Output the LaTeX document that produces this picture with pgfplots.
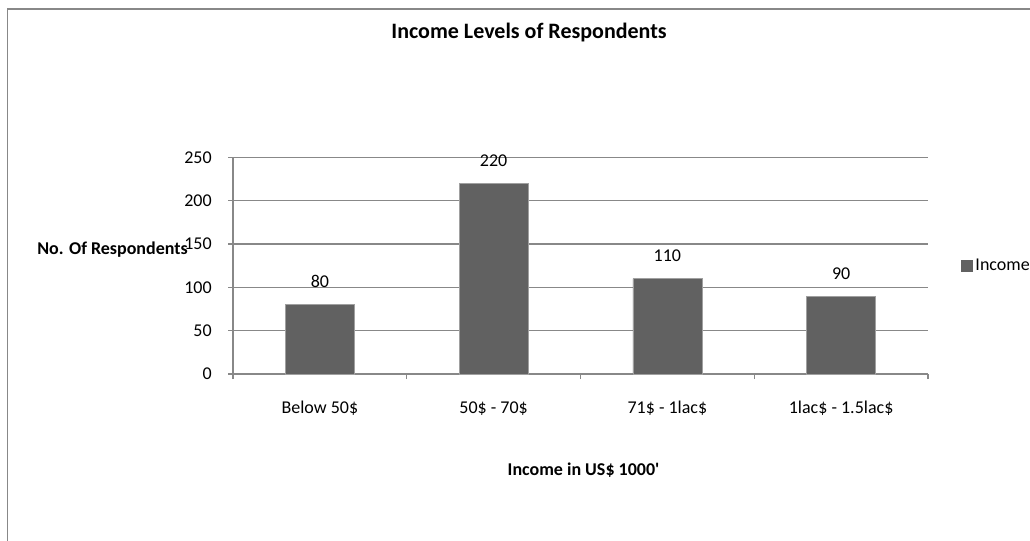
\documentclass[border=0pt]{standalone}
\usepackage{pgfplots}
\pgfplotsset{compat=1.18}
\usepackage{fontspec}
\setmainfont{Carlito}
\definecolor{barc}{HTML}{616161}
\definecolor{gridc}{HTML}{888888}
\begin{document}
\begin{tikzpicture}[x=0.75pt,y=-0.75pt]
\useasboundingbox (0,0) rectangle (1030,541);
\begin{scope}
\clip (0,0) rectangle (1030,541);
\draw[gridc, line width=1.3pt] (7.5,560) -- (7.5,9.3) -- (1050,9.3);
\end{scope}
\begin{axis}[
  at={(174.75pt,-280.5pt)}, anchor=south west,
  scale only axis, width=521.25pt, height=162.5pt,
  xmin=0, xmax=4, ymin=0, ymax=250,
  ytick={0,50,...,250},
  xtick={0.5,1.5,2.5,3.5},
  xticklabels={Below 50\$, 50\$ - 70\$, 71\$ - 1lac\$, 1lac\$ - 1.5lac\$},
  minor xtick={0,1,2,3,4},
  /pgf/number format/assume math mode=true,
  axis x line*=bottom, axis y line*=left,
  axis line style={gridc, line width=1pt},
  tick align=outside,
  major x tick style={draw=none},
  minor x tick style={gridc, line width=1pt},
  y tick style={gridc, line width=1pt},
  major tick length=3.75pt, minor tick length=3.75pt,
  ymajorgrids, grid style={gridc, line width=1pt},
  tick label style={font=\fontsize{13.5}{16}\selectfont, text=black},
  yticklabel style={anchor=east, inner sep=0pt, xshift=-12pt},
  xticklabel style={anchor=base, inner sep=0pt, yshift=-25.5pt},
  title={Income Levels of Respondents},
  title style={font=\bfseries\fontsize{16.5}{19}\selectfont, at={(axis description cs:0.426,1.537)}, anchor=center},
  xlabel={Income in US\$ 1000\textquotesingle},
  xlabel style={font=\bfseries\fontsize{13.5}{16}\selectfont, at={(axis description cs:0.5044,-0.443)}, anchor=center},
  ylabel={No. Of Respondents},
  ylabel style={font=\bfseries\fontsize{13.5}{16}\selectfont, rotate=-90, at={(axis description cs:-0.0647,0.572)}, anchor=east, inner sep=0pt},
  legend style={at={(axis description cs:1.0475,0.5)}, anchor=west, draw=none, fill=none, inner sep=0pt,
    font=\fontsize{13.5}{16}\selectfont, legend cell align=left},
  legend image code/.code={\fill[barc] (0pt,-4pt) rectangle (8.25pt,4.25pt);},
  nodes near coords,
  nodes near coords style={font=\fontsize{13.5}{16}\selectfont, anchor=base, inner sep=0pt, yshift=12.75pt, text=black},
]
\addplot[ybar, bar width=51.75pt, fill=barc, draw=gridc!80, line width=0.4pt] coordinates {(0.5,80) (1.5,220) (2.5,110) (3.5,90)};
\addlegendentry{Income}
\end{axis}
\end{tikzpicture}
\end{document}
